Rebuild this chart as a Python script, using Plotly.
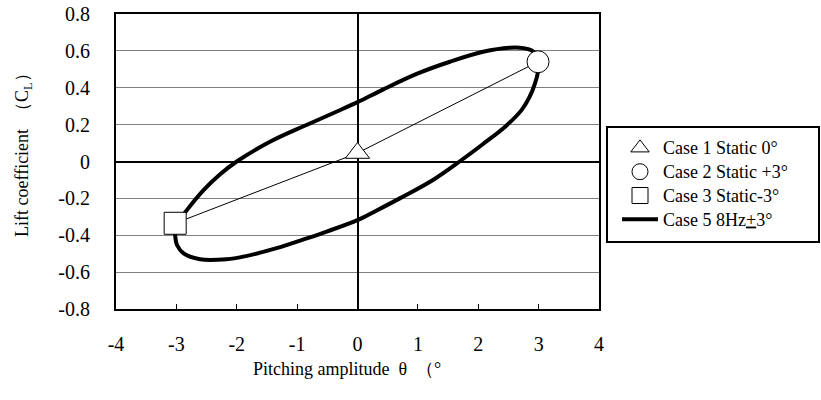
import plotly.graph_objects as go

# ---- data ----
case1_x = [0.0]
case1_y = [0.046]
case2_x = [2.99]
case2_y = [0.541]
case3_x = [-3.02]
case3_y = [-0.335]

loop_x = [-3.02, -2.93, -2.83, -2.55, -2.28, -2.0, -1.45, -0.845, -0.35, 0.0,
          0.42, 0.98, 1.53, 2.08, 2.52, 2.75, 2.88, 2.97, 3.0, 2.99, 2.94,
          2.85, 2.72, 2.45, 2.08, 1.69, 1.25, 0.70, 0.31, 0.0, -0.51,
          -0.84, -1.34, -1.89, -2.17, -2.61, -2.88, -2.99, -3.02, -3.02]
loop_y = [-0.36, -0.31, -0.265, -0.155, -0.07, 0.0, 0.107, 0.198, 0.27, 0.322,
          0.39, 0.475, 0.541, 0.595, 0.617, 0.615, 0.603, 0.575, 0.54, 0.487, 0.424,
          0.35, 0.28, 0.19, 0.095, 0.0, -0.1, -0.2, -0.267, -0.318, -0.38,
          -0.417, -0.47, -0.516, -0.53, -0.53, -0.498, -0.453, -0.40, -0.36]

x_ticks = [-4, -3, -2, -1, 0, 1, 2, 3, 4]
y_ticks = [-0.8, -0.6, -0.4, -0.2, 0, 0.2, 0.4, 0.6, 0.8]
y_ticktext = ["-0.8", "-0.6", "-0.4", "-0.2", "0", "0.2", "0.4", "0.6", "0.8"]

names = ["Case 1 Static 0°", "Case 2 Static +3°", "Case 3 Static-3°", "Case 5 8Hz<u>+</u>3°"]

FONT = "Liberation Serif, Times New Roman, serif"
W, H = 821, 400
L, R, T, B = 116, 599, 14, 309


def px2paper_x(px):
    return (px - L) / (R - L)


def px2paper_y(py):
    return (B - py) / (B - T)


def lg(name):
    return '<span style="font-size:18px">' + name + '</span>'


fig = go.Figure()

fig.add_trace(go.Scatter(
    x=loop_x, y=loop_y, mode="lines", name=lg(names[3]), legendrank=4,
    line=dict(color="black", width=4, shape="spline", smoothing=1.0),
))

fig.add_trace(go.Scatter(
    x=case3_x + case1_x + case2_x, y=case3_y + case1_y + case2_y,
    mode="lines", showlegend=False, line=dict(color="black", width=1),
))

mk_line = dict(color="black", width=1)
fig.add_trace(go.Scatter(
    x=case1_x, y=case1_y, mode="markers", name=lg(names[0]), legendrank=1,
    marker=dict(symbol="triangle-up", size=21, color="white", line=mk_line),
))
fig.add_trace(go.Scatter(
    x=case2_x, y=case2_y, mode="markers", name=lg(names[1]), legendrank=2,
    marker=dict(symbol="circle", size=22, color="white", line=mk_line),
))
fig.add_trace(go.Scatter(
    x=case3_x, y=case3_y, mode="markers", name=lg(names[2]), legendrank=3,
    marker=dict(symbol="square", size=22, color="white", line=mk_line),
))

fig.update_layout(
    width=W, height=H,
    margin=dict(l=L, r=W - R, t=T, b=H - B, pad=0, autoexpand=False),
    paper_bgcolor="white", plot_bgcolor="white",
    font=dict(family=FONT, color="black", size=16),
    showlegend=True,
    legend=dict(
        x=px2paper_x(617), y=px2paper_y(131), xanchor="left", yanchor="top",
        bgcolor="rgba(0,0,0,0)", borderwidth=0, itemwidth=36,
        font=dict(family=FONT, size=16, color="black"),
    ),
    xaxis=dict(
        range=[-4, 4], tickvals=x_ticks, ticktext=[str(v) for v in x_ticks],
        showgrid=False, zeroline=True, zerolinecolor="black", zerolinewidth=1.5,
        showline=True, mirror=True, linecolor="black", linewidth=2,
        ticks="inside", ticklen=5, tickcolor="black", tickwidth=1,
        tickfont=dict(family=FONT, size=20, color="black"),
        ticklabelstandoff=16, fixedrange=True, automargin=False,
    ),
    yaxis=dict(
        range=[-0.8, 0.8], tickvals=y_ticks, ticktext=y_ticktext,
        showgrid=True, gridcolor="#808080", gridwidth=1,
        zeroline=True, zerolinecolor="black", zerolinewidth=2,
        showline=True, mirror=True, linecolor="black", linewidth=2,
        ticks="", tickfont=dict(family=FONT, size=20, color="black"),
        ticklabelstandoff=20, fixedrange=True, automargin=False,
    ),
    shapes=[dict(
        type="rect", xref="paper", yref="paper",
        x0=px2paper_x(607), x1=px2paper_x(819), y0=px2paper_y(242), y1=px2paper_y(127),
        line=dict(color="black", width=2), fillcolor="rgba(0,0,0,0)",
    )],
    annotations=[
        dict(text="Pitching amplitude\u00a0 θ\u00a0 （°", xref="paper", yref="paper",
             x=px2paper_x(347), y=px2paper_y(369), xanchor="center", yanchor="middle",
             showarrow=False, font=dict(family=FONT, size=18, color="black")),
        dict(text="Lift coefficient\u00a0 （C<sub>L</sub>）", xref="paper", yref="paper",
             x=px2paper_x(23), y=px2paper_y(151), xanchor="center", yanchor="middle",
             textangle=-90, showarrow=False, font=dict(family=FONT, size=18, color="black")),
    ],
)

fig.write_html("out.html")
